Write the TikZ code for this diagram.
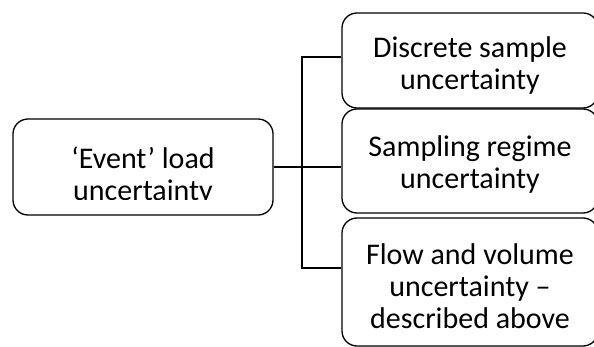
\documentclass[tikz,border=0pt]{standalone}
\usepackage{fontspec}
\setmainfont{Carlito}

\tikzset{
  box/.style={draw, rounded corners=15pt, inner sep=0pt, minimum width=256pt},
  txt/.style={align=center, inner sep=0pt, font=\fontsize{30}{32}\selectfont},
}

\begin{document}
\begin{tikzpicture}[x=1pt, y=-1pt, line width=1.3pt]
    \useasboundingbox (0,0) rectangle (594,347);
    \clip (0,0) rectangle (594,347);

    \node[box, minimum height=95pt]  (disc) at (470,60.5) {};
    \node[box, minimum height=104pt] (samp) at (470,161)  {};
    \node[box, minimum height=128pt] (flow) at (470,282)  {};
    \node[box, minimum width=260pt, minimum height=96pt] (event) at (143,167) {};

    \node[txt] (disctext) at ([yshift=-5pt]disc.center) {Discrete sample\\uncertainty};
    \node[txt] (samptext) at ([yshift=-4pt]samp.center) {Sampling regime\\uncertainty};
    \node[txt] (flowtext) at ([yshift=-4pt]flow.center) {Flow and volume\\uncertainty --\\described above};

    % bottom of the left text is cut off
    \begin{scope}
      \clip (0,0) rectangle (594,200);
      \node[txt] (eventtext) at ([yshift=-9pt]event.center) {‘Event’ load\\uncertainty};
    \end{scope}

    \coordinate (fork) at (302,167);
    \coordinate (top)  at (302,57);
    \coordinate (bot)  at (302,268);

    \draw (event.east) -- (fork) -- (fork -| samp.west);
    \draw (top -| disc.west) -- (top) -- (bot) -- (bot -| flow.west);

\end{tikzpicture}
\end{document}
